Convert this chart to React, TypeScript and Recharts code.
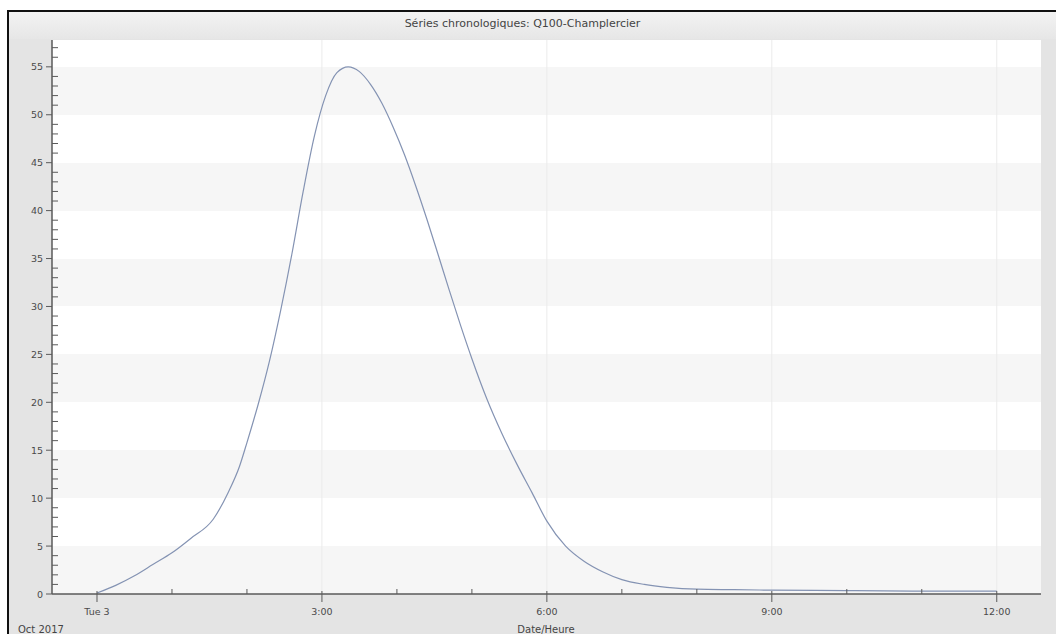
import { LineChart, Line, XAxis, YAxis, CartesianGrid, ReferenceLine } from 'recharts';

// hours after Tue 3 Oct 2017 00:00
const hours = [
  0, 0.25, 0.5, 0.75, 1.0, 1.25, 1.55, 1.75, 1.9, 2.0, 2.15, 2.3, 2.45, 2.6, 2.75, 2.9,
  3.05, 3.2, 3.35, 3.5, 3.65, 3.8, 3.95, 4.1, 4.25, 4.4, 4.55, 4.7, 4.85, 5.0, 5.2, 5.4,
  5.6, 5.8, 6.0, 6.25, 6.5, 6.75, 7.0, 7.3, 7.6, 8.0, 8.5, 9, 10, 11, 12,
];
const flow = [
  0.1, 0.9, 1.9, 3.1, 4.3, 5.8, 7.8, 10.6, 13.3, 15.8, 19.8, 24.3, 29.6, 35.5, 42.0, 47.8,
  52.0, 54.4, 55.0, 54.5, 53.15, 51.2, 48.7, 45.85, 42.6, 39.1, 35.4, 31.65, 28.0, 24.55, 20.35, 16.75,
  13.55, 10.6, 7.6, 5.0, 3.4, 2.3, 1.5, 1.0, 0.7, 0.5, 0.45, 0.4, 0.35, 0.3, 0.3,
];

const xTicks = [0, 1, 2, 3, 4, 5, 6, 7, 8, 9, 10, 11, 12];
const xLabels: Record<number, string> = { 0: 'Tue 3', 3: '3:00', 6: '6:00', 9: '9:00', 12: '12:00' };
const xGridLines = [3, 6, 9, 12];
const yMajorTicks = [0, 5, 10, 15, 20, 25, 30, 35, 40, 45, 50, 55];
const yTicks = [
  0, 1, 2, 3, 4, 5, 6, 7, 8, 9, 10, 11, 12, 13, 14, 15, 16, 17, 18, 19, 20, 21, 22, 23, 24, 25,
  26, 27, 28, 29, 30, 31, 32, 33, 34, 35, 36, 37, 38, 39, 40, 41, 42, 43, 44, 45, 46, 47, 48,
  49, 50, 51, 52, 53, 54, 55, 56, 57,
];

const data = hours.map((h, i) => ({ h, q: flow[i] }));

const font = '"DejaVu Sans", Verdana, sans-serif';
const axisColor = '#5a5a5a';

function YTick(props: any) {
  const { x, y, payload } = props;
  const v = payload.value;
  if (v % 5 === 0) {
    return (
      <g>
        <line x1={x - 6} x2={x} y1={y} y2={y} stroke={axisColor} />
        <text x={x - 9} y={y} dy={3.5} textAnchor="end" fontSize={9.5} fontFamily={font} fill="#4a4a4a">
          {v}
        </text>
      </g>
    );
  }
  return <line x1={x} x2={x + 6} y1={y} y2={y} stroke={axisColor} />;
}

function XTick(props: any) {
  const { x, y, payload } = props;
  const v = payload.value;
  const label = xLabels[v];
  if (label) {
    return (
      <g>
        <line x1={x} x2={x} y1={y - 3} y2={y + 8} stroke={axisColor} />
        <text x={x} y={y + 21} textAnchor="middle" fontSize={9.5} fontFamily={font} fill="#4a4a4a">
          {label}
        </text>
      </g>
    );
  }
  return <line x1={x} x2={x} y1={y - 5} y2={y} stroke={axisColor} />;
}

const EmptyTick = () => <g />;

export default function App() {
  return (
    <div style={{ position: 'absolute', left: 0, top: 0, width: 1056, height: 634, background: '#fff', overflow: 'hidden' }}>
      {/* window frame */}
      <div
        style={{
          position: 'absolute',
          left: 7,
          top: 10,
          width: 1049,
          height: 624,
          borderLeft: '2px solid #111',
          borderTop: '2px solid #111',
          background: '#e4e4e4',
        }}
      />
      <div
        style={{
          position: 'absolute',
          left: 9,
          top: 12,
          width: 1047,
          height: 27,
          background: 'linear-gradient(#f3f3f3, #e6e6e6)',
          fontFamily: font,
          fontSize: 11,
          color: '#444',
          lineHeight: '24px',
          textAlign: 'center',
          paddingRight: 20,
          boxSizing: 'border-box',
        }}
      >
        Séries chronologiques: Q100-Champlercier
      </div>

      <div style={{ position: 'absolute', left: 0, top: 0 }}>
        <LineChart width={1056} height={634} data={data} margin={{ top: 40, right: 15, bottom: 0, left: 8 }}>
          <CartesianGrid
            yAxisId="right"
            vertical={false}
            stroke="none"
            horizontalFill={['#ffffff', '#f6f6f6']}
            fill="#ffffff"
          />
          {xGridLines.map((v) => (
            <ReferenceLine key={v} x={v} stroke="#ebebeb" strokeWidth={1} />
          ))}
          <XAxis
            dataKey="h"
            type="number"
            domain={[-0.6, 12.59]}
            ticks={xTicks}
            interval={0}
            tickSize={0}
            tickMargin={0}
            height={40}
            tick={<XTick />}
            axisLine={{ stroke: axisColor, strokeWidth: 1.5 }}
            allowDataOverflow
          />
          <XAxis
            xAxisId="top"
            orientation="top"
            dataKey="h"
            type="number"
            domain={[-0.6, 12.59]}
            height={0}
            tick={false}
            tickLine={false}
            axisLine={{ stroke: '#8a8a8a' }}
          />
          <YAxis
            type="number"
            domain={[0, 57.8]}
            ticks={yTicks}
            interval={0}
            tickSize={0}
            tickMargin={0}
            width={44}
            tick={<YTick />}
            axisLine={{ stroke: axisColor, strokeWidth: 1.5 }}
            allowDataOverflow
          />
          <YAxis
            yAxisId="right"
            orientation="right"
            type="number"
            domain={[0, 57.8]}
            ticks={yMajorTicks}
            interval={0}
            width={0}
            tickSize={0}
            tick={EmptyTick}
            tickLine={false}
            axisLine={{ stroke: '#8a8a8a' }}
            allowDataOverflow
          />
          <Line
            type="monotone"
            dataKey="q"
            stroke="#8493b3"
            strokeWidth={1.2}
            dot={false}
            isAnimationActive={false}
          />
        </LineChart>
      </div>

      <div style={{ position: 'absolute', left: 18, top: 624, fontFamily: font, fontSize: 10, color: '#444' }}>
        Oct 2017
      </div>
      <div
        style={{
          position: 'absolute',
          left: 496,
          width: 100,
          top: 624,
          textAlign: 'center',
          fontFamily: font,
          fontSize: 10,
          color: '#444',
        }}
      >
        Date/Heure
      </div>
    </div>
  );
}
